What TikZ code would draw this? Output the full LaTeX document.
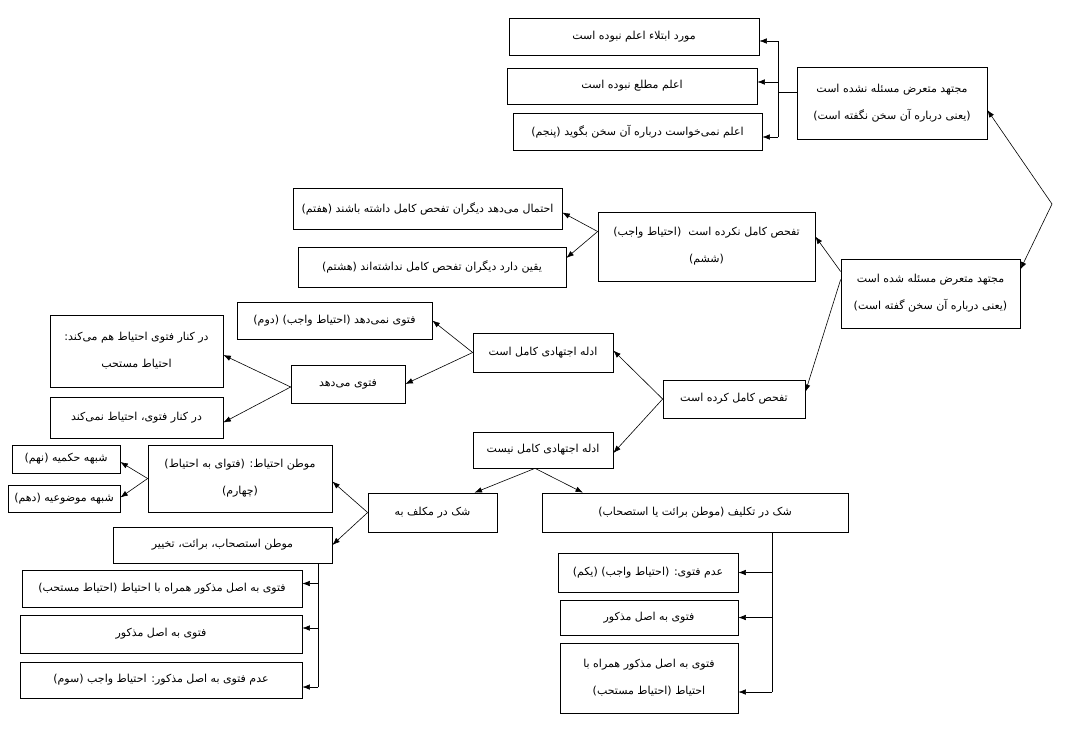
\documentclass[tikz,border=0pt]{standalone}
\usepackage{fontspec}
\usetikzlibrary{arrows.meta}
\newfontfamily\farsi[Script=Arabic]{DejaVu Sans}
\TeXXeTstate=1
\newcommand{\fatxt}[1]{{\farsi\beginR #1\endR}}
\begin{document}
\begin{tikzpicture}[x=1pt,y=-1pt,
  bx/.style={draw, line width=0.7pt, inner sep=0pt, align=center,
    font=\fontsize{11}{27}\selectfont},
  ln/.style={line width=0.6pt},
  arr/.style={line width=0.6pt, -{Latex[length=7.5pt,width=5.5pt]}}]
\fill[white] (0,0) rectangle (1075,731);
\useasboundingbox (0,0) rectangle (1075,731);
% nodes
\node[bx, minimum width=250, minimum height=37] (B1) at (634,36.5) {\fatxt{مورد ابتلاء اعلم نبوده است}};
\node[bx, minimum width=250, minimum height=36] (B2) at (632,86) {\fatxt{اعلم مطلع نبوده است}};
\node[bx, minimum width=249, minimum height=37] (B3) at (637.5,131.5) {\fatxt{اعلم نمی‌خواست درباره آن سخن بگوید (پنجم)}};
\node[bx, minimum width=190, minimum height=72] (A) at (892,103) {\fatxt{مجتهد متعرض مسئله نشده است}\\\fatxt{(یعنی درباره آن سخن نگفته است)}};
\node[bx, minimum width=179, minimum height=69] (B) at (930.5,293.5) {\fatxt{مجتهد متعرض مسئله شده است}\\\fatxt{(یعنی درباره آن سخن گفته است)}};
\node[bx, minimum width=217, minimum height=69] (C) at (706.5,246.5) {\fatxt{تفحص کامل نکرده است\ \ (احتیاط واجب)}\\\fatxt{(ششم)}};
\node[bx, minimum width=269, minimum height=41] (E) at (427.5,208.5) {\fatxt{احتمال می‌دهد دیگران تفحص کامل داشته باشند (هفتم)}};
\node[bx, minimum width=268, minimum height=40] (F) at (432,267) {\fatxt{یقین دارد دیگران تفحص کامل نداشته‌اند (هشتم)}};
\node[bx, minimum width=142, minimum height=38] (D) at (734,399) {\fatxt{تفحص کامل کرده است}};
\node[bx, minimum width=140, minimum height=39] (G) at (543,352.5) {\fatxt{ادله اجتهادی کامل است}};
\node[bx, minimum width=140, minimum height=36] (H) at (543,450) {\fatxt{ادله اجتهادی کامل نیست}};
\node[bx, minimum width=195, minimum height=37] (I) at (334.5,320.5) {\fatxt{فتوی نمی‌دهد (احتیاط واجب) (دوم)}};
\node[bx, minimum width=114, minimum height=38] (J) at (348,384) {\fatxt{فتوی می‌دهد}};
\node[bx, minimum width=173, minimum height=72] (K) at (136.5,351) {\fatxt{در کنار فتوی احتیاط هم می‌کند:}\\\fatxt{احتیاط مستحب}};
\node[bx, minimum width=173, minimum height=41] (L) at (136.5,417.5) {\fatxt{در کنار فتوی، احتیاط نمی‌کند}};
\node[bx, minimum width=184, minimum height=67] (M) at (240,478.5) {\fatxt{موطن احتیاط: (فتوای به احتیاط)}\\\fatxt{(چهارم)}};
\node[bx, minimum width=108, minimum height=28] (N) at (66,459) {\fatxt{شبهه حکمیه (نهم)}};
\node[bx, minimum width=112, minimum height=27] (O) at (64,498.5) {\fatxt{شبهه موضوعیه (دهم)}};
\node[bx, minimum width=219, minimum height=36] (P) at (222.5,545) {\fatxt{موطن استصحاب، برائت، تخییر}};
\node[bx, minimum width=129, minimum height=39] (Q) at (432.5,512.5) {\fatxt{شک در مکلف به}};
\node[bx, minimum width=306, minimum height=39] (R) at (695,512.5) {\fatxt{شک در تکلیف (موطن برائت یا استصحاب)}};
\node[bx, minimum width=280, minimum height=37] (S1) at (162,588.5) {\fatxt{فتوی به اصل مذکور همراه با احتیاط (احتیاط مستحب)}};
\node[bx, minimum width=282, minimum height=38] (S2) at (161,634) {\fatxt{فتوی به اصل مذکور}};
\node[bx, minimum width=282, minimum height=36] (S3) at (161,680) {\fatxt{عدم فتوی به اصل مذکور: احتیاط واجب (سوم)}};
\node[bx, minimum width=180, minimum height=39] (T1) at (648,572.5) {\fatxt{عدم فتوی: (احتیاط واجب) (یکم)}};
\node[bx, minimum width=178, minimum height=35] (T2) at (649,617.5) {\fatxt{فتوی به اصل مذکور}};
\node[bx, minimum width=178, minimum height=70] (T3) at (649,678) {\fatxt{فتوی به اصل مذکور همراه با}\\\fatxt{احتیاط (احتیاط مستحب)}};
% top bracket
\coordinate (tj) at ([yshift=11pt]A.west);
\coordinate (tv) at (778,92);
\coordinate (tv1) at (778,41);
\coordinate (tv3) at (778,137);
\draw[ln] (tj) -- (tv);
\draw[ln] (tv1) -- (tv3);
\draw[arr] (tv1) -- (B1.east |- tv1);
\draw[arr] (tv1 |- 0,82) -- (B2.east |- 0,82);
\draw[arr] (tv3) -- (B3.east |- tv3);
% right vertex
\coordinate (rv) at (1052,204);
\draw[arr] (rv) -- ([yshift=-7pt]A.east);
\draw[arr] (rv) -- ([yshift=24pt]B.east);
% B to C and D
\draw[arr] ([yshift=22pt]B.west) -- ([yshift=10pt]C.east);
\draw[arr] ([yshift=14pt]B.west) -- ([yshift=7pt]D.east);
% C vertex
\coordinate (cv) at ([yshift=15pt]C.west);
\draw[arr] (cv) -- ([yshift=-4pt]E.east);
\draw[arr] (cv) -- ([yshift=9pt]F.east);
% D vertex
\draw[arr] (D.west) -- ([yshift=2pt]G.east);
\draw[arr] (D.west) -- ([yshift=-3pt]H.east);
% G vertex
\draw[arr] (G.west) -- (I.east);
\draw[arr] (G.west) -- (J.east);
% J vertex
\coordinate (jv) at ([yshift=-3pt]J.west);
\draw[arr] (jv) -- ([yshift=-4pt]K.east);
\draw[arr] (jv) -- ([yshift=-5pt]L.east);
% H vertex
\coordinate (hv) at ([xshift=-8pt]H.south);
\draw[arr] (hv) -- ([xshift=42pt]Q.north);
\draw[arr] (hv) -- ([xshift=-112pt]R.north);
% Q vertex
\draw[arr] (Q.west) -- ([yshift=-3pt]M.east);
\draw[arr] (Q.west) -- (P.east);
% M vertex
\draw[arr] (M.west) -- ([yshift=-3pt]N.east);
\draw[arr] (M.west) -- ([yshift=1pt]O.east);
% P bracket
\coordinate (pb) at ([xshift=-14pt]P.south east);
\coordinate (pa1) at ([yshift=5pt]S1.east);
\coordinate (pa2) at ([yshift=6pt]S2.east);
\coordinate (pa3) at ([yshift=-7pt]S3.east);
\draw[ln] (pb) -- (pb |- pa3);
\draw[arr] (pb |- pa1) -- (pa1);
\draw[arr] (pb |- pa2) -- (pa2);
\draw[arr] (pb |- pa3) -- (pa3);
% R bracket
\coordinate (rb) at ([xshift=-76pt]R.south east);
\coordinate (ra3) at ([yshift=-14pt]T3.east);
\draw[ln] (rb) -- (rb |- ra3);
\draw[arr] (rb |- T1.east) -- (T1.east);
\draw[arr] (rb |- T2.east) -- (T2.east);
\draw[arr] (rb |- ra3) -- (ra3);
\end{tikzpicture}
\end{document}
